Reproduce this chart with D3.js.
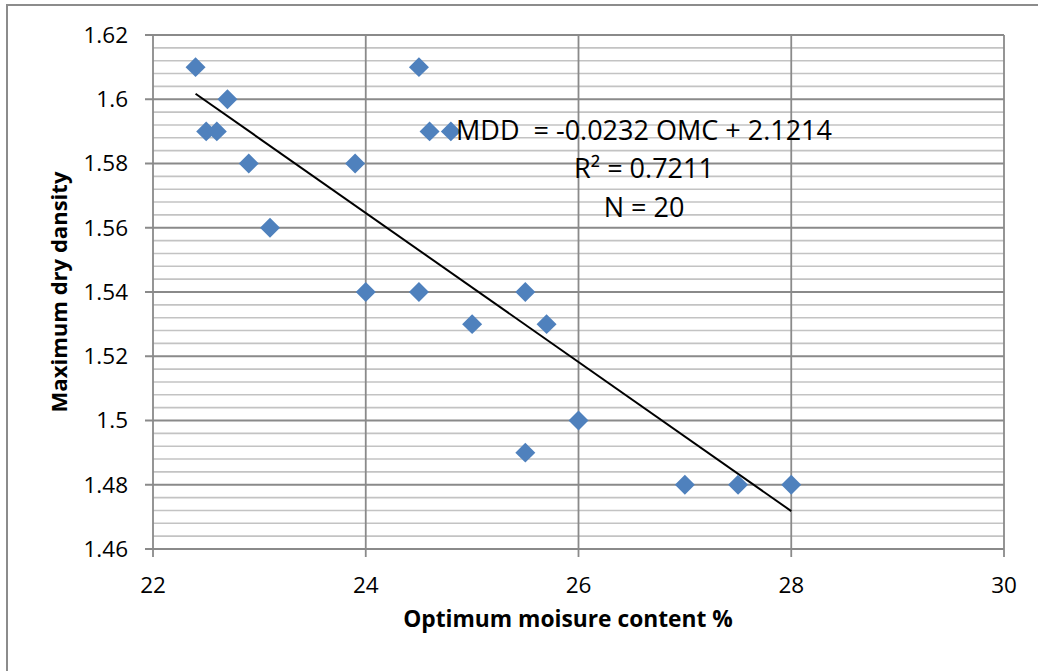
<!DOCTYPE html>
<html>
<head>
<meta charset="utf-8">
<script src="https://cdn.jsdelivr.net/npm/d3@7"></script>
<style>
  html, body { margin: 0; padding: 0; background: #fff; }
  svg { display: block; }
  text { font-family: "Open Sans", "Liberation Sans", sans-serif; fill: #000; }
</style>
</head>
<body>
<script>
// ---- Data ----
const omc = [22.4, 22.5, 22.6, 22.7, 22.9, 23.1, 23.9, 24.0, 24.5, 24.6, 24.8, 24.5, 25.0, 25.5, 25.7, 25.5, 26.0, 27.0, 27.5, 28.0];
const mdd = [1.61, 1.59, 1.59, 1.60, 1.58, 1.56, 1.58, 1.54, 1.61, 1.59, 1.59, 1.54, 1.53, 1.54, 1.53, 1.49, 1.50, 1.48, 1.48, 1.48];
const trendSlope = -0.0232;
const trendIntercept = 2.1214;
const xTicks = [22, 24, 26, 28, 30];
const yTicks = [1.46, 1.48, 1.50, 1.52, 1.54, 1.56, 1.58, 1.60, 1.62];
const yTickLabels = ["1.46", "1.48", "1.5", "1.52", "1.54", "1.56", "1.58", "1.6", "1.62"];
const xTickLabels = ["22", "24", "26", "28", "30"];
const annotation = ["MDD  = -0.0232 OMC + 2.1214", "R\u00B2 = 0.7211", "N = 20"];
const xTitle = "Optimum moisure content %";
const yTitle = "Maximum dry dansity";

// ---- Layout ----
const W = 1038, H = 671;
const plot = { left: 153, right: 1004, top: 35, bottom: 549 };

const svg = d3.select("body").append("svg").attr("width", W).attr("height", H);
svg.append("rect").attr("width", W).attr("height", H).attr("fill", "#fff");

// outer chart border (only left and top visible)
svg.append("path").attr("d", `M7,${H} L7,5 L${W},5`).attr("fill", "none")
  .attr("stroke", "#8c8c8c").attr("stroke-width", 2);

const x = d3.scaleLinear().domain([22, 30]).range([plot.left, plot.right]);
const y = d3.scaleLinear().domain([1.46, 1.62]).range([plot.bottom, plot.top]);

const g = svg.append("g");

// minor horizontal gridlines
const minor = d3.range(0, 41).map(i => 1.46 + i * 0.004).filter((v, i) => i % 5 !== 0);
g.selectAll("line.minor").data(minor).join("line")
  .attr("x1", plot.left).attr("x2", plot.right)
  .attr("y1", d => y(d)).attr("y2", d => y(d))
  .attr("stroke", "#c3c3c3").attr("stroke-width", 1.6);

// major horizontal gridlines
g.selectAll("line.hmaj").data(yTicks).join("line")
  .attr("x1", plot.left - 8).attr("x2", plot.right)
  .attr("y1", d => y(d)).attr("y2", d => y(d))
  .attr("stroke", "#8a8a8a").attr("stroke-width", 1.8);

// vertical major gridlines
g.selectAll("line.vmaj").data(xTicks).join("line")
  .attr("x1", d => x(d)).attr("x2", d => x(d))
  .attr("y1", plot.top).attr("y2", plot.bottom + 8)
  .attr("stroke", "#8a8a8a").attr("stroke-width", 1.8);

// tick labels
g.selectAll("text.ytl").data(yTicks).join("text")
  .attr("x", 128).attr("y", d => y(d)).attr("dy", "0.35em")
  .attr("text-anchor", "end").attr("font-size", 22.5)
  .text((d, i) => yTickLabels[i]);

g.selectAll("text.xtl").data(xTicks).join("text")
  .attr("x", d => x(d)).attr("y", 593)
  .attr("text-anchor", "middle").attr("font-size", 22.5)
  .text((d, i) => xTickLabels[i]);

// trendline
const x0 = d3.min(omc), x1 = d3.max(omc);
g.append("line")
  .attr("x1", x(x0)).attr("y1", y(trendSlope * x0 + trendIntercept))
  .attr("x2", x(x1)).attr("y2", y(trendSlope * x1 + trendIntercept))
  .attr("stroke", "#000").attr("stroke-width", 2);

// points
const pts = omc.map((v, i) => ({ x: v, y: mdd[i] }));
const sym = d3.symbol().type(d3.symbolSquare).size(200);
g.selectAll("path.pt").data(pts).join("path")
  .attr("d", sym)
  .attr("transform", d => `translate(${x(d.x)},${y(d.y)}) rotate(45)`)
  .attr("fill", "#4f81bd");

// annotation text
const ann = g.append("g");
const annBase = [140, 178, 217];
annotation.forEach((t, i) => {
  ann.append("text")
    .attr("x", 644).attr("y", annBase[i])
    .attr("text-anchor", "middle").attr("font-size", 27)
    .style("white-space", "pre")
    .text(t);
});

// axis titles
function fit(sel, target) {
  const len = sel.node().getComputedTextLength();
  const fs = parseFloat(sel.attr("font-size"));
  sel.attr("font-size", fs * target / len);
}
const xt = svg.append("text")
  .attr("x", 568).attr("y", 627)
  .attr("text-anchor", "middle").attr("font-weight", "bold").attr("font-size", 23)
  .text(xTitle);
fit(xt, 330);

const yt = svg.append("text")
  .attr("transform", `translate(67,292) rotate(-90)`)
  .attr("text-anchor", "middle").attr("font-weight", "bold").attr("font-size", 23)
  .text(yTitle);
fit(yt, 241);
</script>
</body>
</html>
